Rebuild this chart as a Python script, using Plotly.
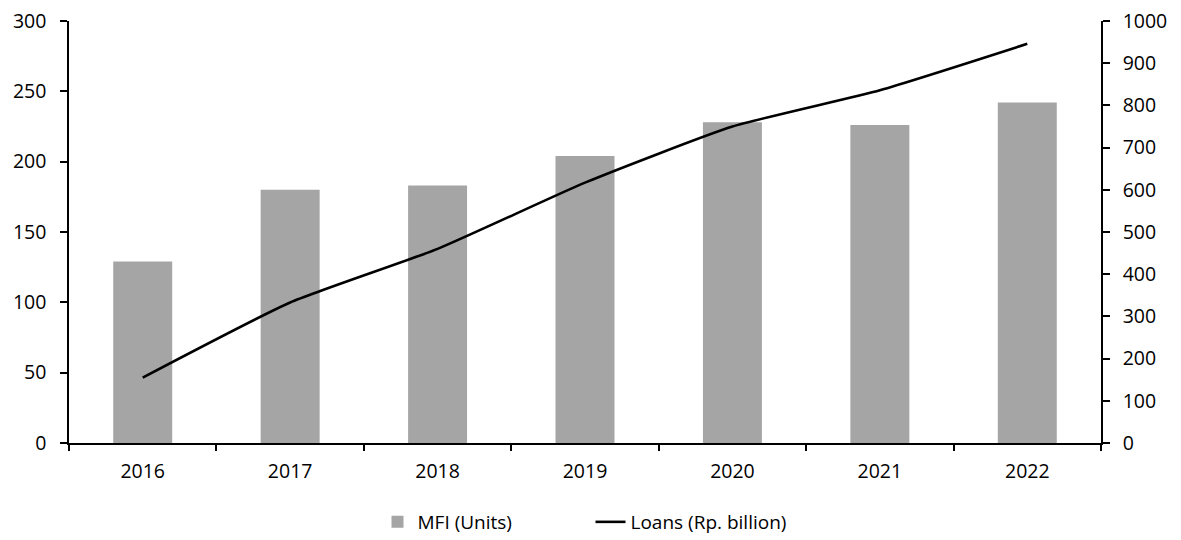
import plotly.graph_objects as go

years = ["2016", "2017", "2018", "2019", "2020", "2021", "2022"]
mfi_units = [129, 180, 183, 204, 228, 226, 242]
loans_rp_billion = [155, 333, 460, 617, 750, 836, 946]

left_ticks = [0, 50, 100, 150, 200, 250, 300]
right_ticks = [0, 100, 200, 300, 400, 500, 600, 700, 800, 900, 1000]

FONT = "'Open Sans', Lato, sans-serif"

fig = go.Figure()
fig.add_trace(go.Bar(
    x=years, y=mfi_units, name="MFI (Units)",
    marker=dict(color="#A5A5A5", line=dict(width=0)),
    yaxis="y",
))
fig.add_trace(go.Scatter(
    x=years, y=loans_rp_billion, name="Loans (Rp. billion)",
    mode="lines", line=dict(color="#000000", width=2.6, shape="spline", smoothing=0.5),
    yaxis="y2",
))

fig.update_layout(
    width=1181, height=540,
    margin=dict(l=69, r=80, t=21, b=97, autoexpand=False),
    paper_bgcolor="white", plot_bgcolor="white",
    font=dict(family=FONT, size=19.5, color="#000000"),
    bargap=0.6,
    showlegend=True,
    legend=dict(orientation="h", x=0.5, xanchor="center", xref="container",
                y=(540 - 522) / 540, yanchor="middle", yref="container",
                font=dict(size=19), traceorder="normal",
                entrywidth=168, entrywidthmode="pixels"),
    xaxis=dict(
        type="category", showline=True, linecolor="#000000", linewidth=1.5,
        ticks="outside", ticklen=6, tickcolor="#000000", tickwidth=1.5,
        tickson="boundaries", showgrid=False, zeroline=False,
        ticklabelstandoff=10,
    ),
    yaxis=dict(
        range=[0, 300], tickvals=left_ticks, showline=True, linecolor="#000000",
        linewidth=1.5, ticks="outside", ticklen=7, tickcolor="#000000", tickwidth=1.5,
        showgrid=False, zeroline=False, ticklabelstandoff=10,
    ),
    yaxis2=dict(
        range=[0, 1000], tickvals=right_ticks, overlaying="y", side="right",
        showline=True, linecolor="#000000", linewidth=1.5, ticks="outside", ticklen=7,
        tickcolor="#000000", tickwidth=1.5, showgrid=False, zeroline=False,
        ticklabelstandoff=9,
    ),
)

fig.write_html("out.html")
